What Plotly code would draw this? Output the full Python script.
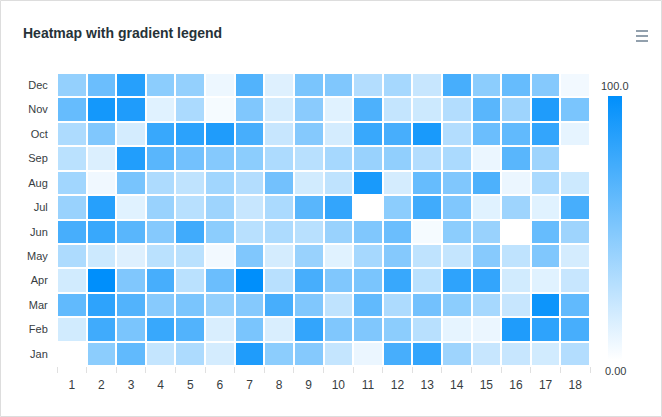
import plotly.graph_objects as go

# ---------------- data ----------------
months = ["Jan", "Feb", "Mar", "Apr", "May", "Jun", "Jul", "Aug", "Sep", "Oct", "Nov", "Dec"]
columns = list(range(1, 19))

jan = [0, 45, 62, 23, 32, 17, 88, 45, 48, 23, 8, 72, 80, 38, 22, 22, 18, 30]
feb = [18, 75, 52, 78, 68, 15, 52, 15, 80, 50, 50, 45, 28, 10, 8, 88, 82, 72]
mar = [62, 82, 68, 47, 52, 42, 48, 72, 50, 25, 62, 32, 55, 45, 35, 22, 95, 62]
apr = [18, 100, 50, 72, 27, 58, 100, 28, 72, 50, 52, 78, 27, 82, 80, 18, 12, 22]
may = [32, 20, 13, 27, 27, 5, 50, 17, 40, 12, 35, 48, 25, 23, 47, 25, 50, 17]
jun = [72, 78, 65, 48, 75, 45, 28, 32, 28, 40, 50, 58, 4, 45, 40, 0, 60, 38]
jul = [40, 85, 12, 40, 28, 38, 22, 33, 65, 80, 0, 45, 75, 50, 12, 38, 12, 72]
aug = [37, 6, 53, 32, 25, 37, 30, 55, 18, 25, 90, 17, 60, 50, 70, 8, 33, 20]
sep = [27, 14, 87, 65, 55, 48, 45, 32, 28, 35, 40, 43, 30, 33, 8, 65, 38, 0]
oct_ = [32, 50, 17, 78, 83, 88, 72, 22, 48, 17, 78, 72, 90, 30, 58, 62, 80, 10]
nov = [60, 92, 88, 12, 33, 4, 50, 17, 46, 12, 70, 23, 20, 30, 65, 38, 88, 52]
dec = [42, 58, 85, 45, 42, 7, 68, 13, 52, 50, 30, 35, 22, 72, 45, 60, 48, 5]

z = [jan, feb, mar, apr, may, jun, jul, aug, sep, oct_, nov, dec]
zmin, zmax = 0, 100

# ---------------- layout helpers ----------------
W, H = 662, 417
L, R, T, B = 57, 72, 73, 51
pw, ph = W - L - R, H - T - B


def px(x):
    return (x - L) / pw


def py(y):
    return (H - B - y) / ph


FONT = "Liberation Sans, Arial, Helvetica, sans-serif"
TXT = "#373d3f"

fig = go.Figure(
    go.Heatmap(
        z=z,
        x=columns,
        y=months,
        zmin=zmin,
        zmax=zmax,
        colorscale=[[0, "#ffffff"], [1, "#008FFB"]],
        xgap=2,
        ygap=2,
        hoverongaps=False,
        colorbar=dict(
            x=px(608), xanchor="left",
            y=py(228), yanchor="middle",
            lenmode="pixels", len=264,
            thickness=14,
            xpad=0, ypad=0,
            showticklabels=False, ticks="",
            outlinewidth=0,
        ),
    )
)

fig.update_xaxes(
    range=[0.5, 18.5],
    tickvals=columns,
    ticktext=[str(c) for c in columns],
    ticks="outside", ticklen=8, tickcolor="rgba(0,0,0,0)",
    minor=dict(tickvals=[c - 0.5 for c in columns] + [columns[-1] + 0.5],
               ticks="outside", ticklen=6, tickcolor="#e0e0e0", tickwidth=1),
    showgrid=False, zeroline=False, showline=False,
    tickfont=dict(family=FONT, size=12, color=TXT),
    fixedrange=True,
)
fig.update_yaxes(
    type="category",
    ticks="outside", ticklen=6, tickcolor="rgba(0,0,0,0)",
    showgrid=False, zeroline=False, showline=False,
    tickfont=dict(family=FONT, size=11, color=TXT),
    fixedrange=True,
)

shapes = [
    # card border
    dict(type="rect", xref="paper", yref="paper",
         x0=px(0.5), x1=px(W - 0.5), y0=py(H - 0.5), y1=py(0.5),
         line=dict(color="#dddddd", width=1), fillcolor="rgba(0,0,0,0)", layer="below"),
]
# hamburger menu icon
for yy in (31, 36, 41):
    shapes.append(dict(type="line", xref="paper", yref="paper",
                       x0=px(636), x1=px(648), y0=py(yy), y1=py(yy),
                       line=dict(color="#6e8192", width=1.5)))

annotations = [
    dict(text="<b>Heatmap with gradient legend</b>", xref="paper", yref="paper",
         x=px(21), y=py(33), xanchor="left", yanchor="middle", showarrow=False,
         font=dict(family=FONT, size=14, color="#263238")),
    dict(text="100.0", xref="paper", yref="paper", x=px(615), y=py(86),
         xanchor="center", yanchor="middle", showarrow=False,
         font=dict(family=FONT, size=11, color=TXT)),
    dict(text="0.00", xref="paper", yref="paper", x=px(615), y=py(371),
         xanchor="center", yanchor="middle", showarrow=False,
         font=dict(family=FONT, size=11, color=TXT)),
]

fig.update_layout(
    width=W, height=H,
    margin=dict(l=L, r=R, t=T, b=B),
    paper_bgcolor="white", plot_bgcolor="white",
    shapes=shapes, annotations=annotations,
    font=dict(family=FONT, color=TXT),
    showlegend=False,
)

fig.write_html("out.html", config={"displayModeBar": False})
